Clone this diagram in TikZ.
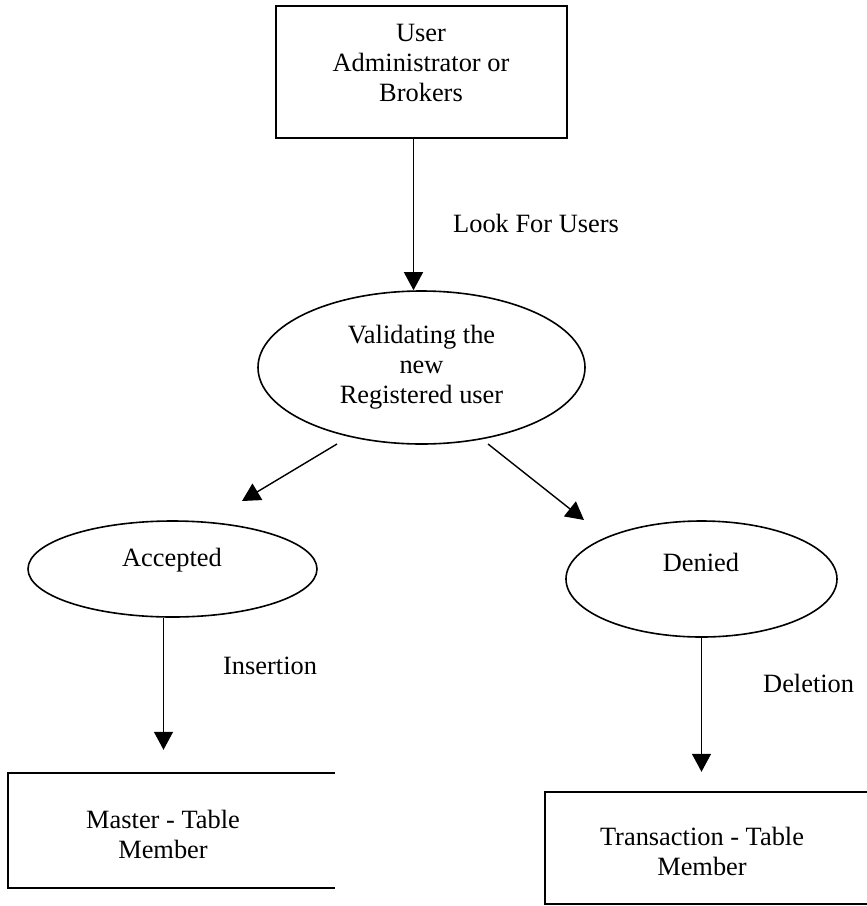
\documentclass[tikz,border=0pt]{standalone}
\usepackage{fontspec}
\setmainfont{Liberation Serif}
\usetikzlibrary{shapes.geometric,arrows.meta}
\begin{document}
\begin{tikzpicture}[x=1pt,y=-1pt,
  txt/.style={inner sep=0pt, align=center, font=\fontsize{26.4}{30}\selectfont},
  lbl/.style={inner sep=0pt, anchor=base west, font=\fontsize{26.4}{30}\selectfont},
  frame/.style={draw=black, line width=1.8pt},
  openframe/.style={inner sep=0pt},
  oval/.style={ellipse, draw=black, line width=1.6pt, inner sep=0pt},
  flow/.style={draw=black, line width=1.4pt, -{Triangle[length=18pt,width=19pt]}}]
\useasboundingbox (0,0) rectangle (867,906);

% boxes and ovals
\node[frame, minimum width=291pt, minimum height=132pt] (user) at (421.5,72) {};
\node[txt] at (421,63) {User\\Administrator or\\Brokers};

\node[oval, minimum width=327pt, minimum height=153pt, txt] (valid) at (421.5,367.5)
  {Validating the\\new\\Registered user};

\node[oval, minimum width=289pt, minimum height=96pt] (acc) at (172.5,569) {};
\node[txt] at (172,560) {Accepted};

\node[oval, minimum width=271pt, minimum height=116pt] (den) at (701.5,579) {};
\node[txt] at (701,562) {Denied};

% table boxes, open on the right-hand side
\node[openframe, minimum width=327pt, minimum height=115pt] (master) at (171.5,830.5) {};
\draw[line width=1.6pt] (master.north east) -- (master.north west)
  -- (master.south west) -- (master.south east);
\node[txt] at (163,834) {Master - Table\\Member};

\node[openframe, minimum width=322pt, minimum height=112pt] (trans) at (706,848) {};
\draw[line width=1.6pt] (trans.north east) -- (trans.north west)
  -- (trans.south west) -- (trans.south east);
\node[txt] at (702,851) {Transaction - Table\\Member};

% connectors
\draw[flow] ([xshift=-8pt]user.south) -- ([xshift=-8pt]valid.north);
\node[lbl] at (453,232) {Look For Users};

\coordinate (vl) at (337,444);
\coordinate (al) at (242,501);
\coordinate (vr) at (488,444);
\coordinate (dr) at (584,520);
\draw[flow] (vl) -- (al);
\draw[flow] (vr) -- (dr);

\draw[flow, shorten >=23pt] ([xshift=-9pt]acc.south) -- ([xshift=-9pt]acc.south |- master.north);
\node[lbl] at (223,674) {Insertion};

\draw[flow, shorten >=20pt] (den.south) -- (den.south |- trans.north);
\node[lbl] at (763,692) {Deletion};
\end{tikzpicture}
\end{document}
